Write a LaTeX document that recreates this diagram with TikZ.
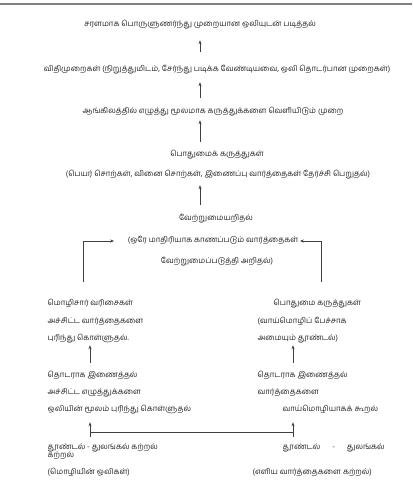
\documentclass[tikz,border=0pt]{standalone}
\usepackage{fontspec}
\newfontfamily\tamil[Script=Tamil]{Hind Madurai}
\usetikzlibrary{arrows.meta}

\begin{document}
\begin{tikzpicture}[
  x=1pt, y=-1pt,
  lbl/.style={inner sep=1.5pt, text height=5pt, text depth=2pt, font=\tamil\fontsize{7.8}{9}\selectfont, text=black!85},
  col/.style={lbl, anchor=west},
  arr/.style={-{Stealth[length=4pt, width=3pt]}, black!75, line width=0.8pt}
]
\useasboundingbox (0,0) rectangle (412,489);
\draw[gray, line width=1.3pt] (0,4) -- (412,4);

% main chain
\node[lbl] (fluent) at (200,25) {சரளமாக பொருளுணர்ந்து முறையான ஒலியுடன் படித்தல்};
\node[lbl] (rules) at (217,70) {விதிமுறைகள் (நிறுத்துமிடம், சேர்ந்து படிக்க வேண்டியவை, ஒலி தொடர்பான முறைகள்)};
\node[lbl] (written) at (213,112) {ஆங்கிலத்தில் எழுத்து மூலமாக கருத்துக்களை வெளியிடும் முறை};
\node[lbl] (common) at (217,155) {பொதுமைக் கருத்துகள்};
\node[lbl] (commonsub) at (218,175) {(பெயர் சொற்கள், வினை சொற்கள், இணைப்பு வார்த்தைகள் தேர்ச்சி பெறுதல்)};
\node[lbl] (diff) at (216,219) {வேற்றுமையறிதல்};
\node[lbl] (diffa) at (213,241) {(ஒரே மாதிரியாக காணப்படும் வார்த்தைகள்};
\node[lbl] (diffb) at (217,262) {வேற்றுமைப்படுத்தி அறிதல்)};

% left column
\node[col] (lseq) at (46,304) {மொழிசார் வரிசைகள்};
\node[col] (lprint) at (46,322) {அச்சிட்ட வார்த்தைகளை};
\node[col] (lgrasp) at (46,339) {புரிந்து கொள்ளுதல்.};
\node[col] (ljoin) at (46,376) {தொடராக இணைத்தல்};
\node[col] (lletters) at (46,393) {அச்சிட்ட எழுத்துக்களை};
\node[col] (lsound) at (46,410) {ஒலியின் மூலம் புரிந்து கொள்ளுதல்};
\node[col] (lstim) at (46,448) {தூண்டல் - துலங்கல் கற்றல்};
\node[col] (lstimb) at (46,456) {கற்றல்};
\node[col] (lsounds) at (46,473) {(மொழியின் ஒலிகள்)};

% right column
\node[col] (rcommon) at (272,304) {பொதுமை கருத்துகள்};
\node[col] (rspeech) at (256,322) {(வாய்மொழிப் பேச்சாக};
\node[col] (rcue) at (256,339) {அமையும் தூண்டல்)};
\node[col] (rjoin) at (256,376) {தொடராக இணைத்தல்};
\node[col] (rwords) at (256,393) {வார்த்தைகளை};
\node[col] (roral) at (281,410) {வாய்மொழியாகக் கூறல்};
\node[col] (rstim) at (281,448) {\hbox to 102pt{தூண்டல்\hfill-\hfill துலங்கல்}};
\node[col] (rsimple) at (251,473) {(எளிய வார்த்தைகளை கற்றல்)};

\coordinate (ltop) at (83,282);
\coordinate (rtop) at (321,282);
\coordinate (lbar) at (90,432);
\coordinate (rbar) at (293,432);

\draw[arr, shorten <=13pt, shorten >=10pt] (rules.north -| fluent) -- (fluent.south);
\draw[arr, shorten <=9pt, shorten >=7pt] (written.north -| fluent) -- (rules.south -| fluent);
\draw[arr, shorten <=8pt, shorten >=3pt] (common.north -| fluent) -- (written.south -| fluent);
\draw[arr, shorten <=9pt, shorten >=5pt] (diff.north -| fluent) -- (commonsub.south -| fluent);
\draw[arr, shorten >=12pt] (ltop) |- (diffa.west);
\draw[arr] (rtop) |- (diffa.east);
\draw[arr, shorten <=8pt, shorten >=1pt] (ljoin.north -| lbar) -- (lgrasp.south -| lbar);
\draw[arr, shorten <=8pt, shorten >=1pt] (rjoin.north -| rbar) -- (rcue.south -| rbar);
\draw[black!75, line width=0.8pt] (lbar) -- (rbar);
\draw[arr, shorten >=7pt] ([yshift=-5pt]lbar) -- (lsound.south -| lbar);
\draw[arr, shorten >=7pt] ([yshift=-5pt]rbar) -- (roral.south -| rbar);
\end{tikzpicture}
\end{document}
